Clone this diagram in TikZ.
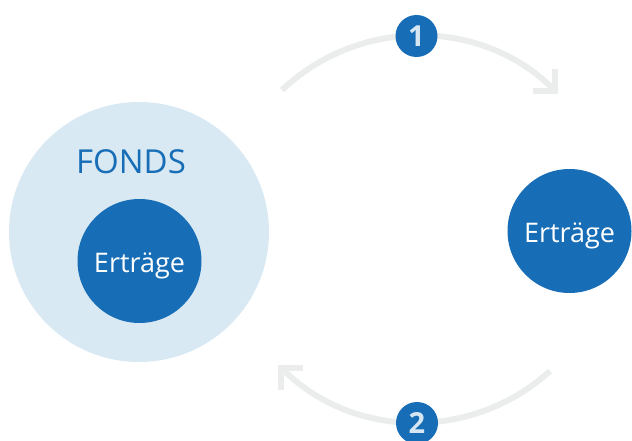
\documentclass[tikz,border=0pt]{standalone}
\usepackage{fontspec}
\setmainfont{Open Sans}
\usetikzlibrary{arrows.meta}
\definecolor{fblue}{HTML}{176DB6}
\definecolor{flight}{HTML}{D9E9F3}
\definecolor{fgray}{HTML}{EBEDED}
\definecolor{fdigit}{HTML}{D6E6F2}
\tikzset{
  arcline/.style={draw=fgray, line width=6pt, -{Straight Barb[angle=90:22pt, sharp]}},
  bigcirc/.style={circle, fill=flight, minimum size=260pt, inner sep=0pt},
  darkcirc/.style={circle, fill=fblue, minimum size=124pt, inner sep=0pt, text=white,
    text height=23pt, text depth=0pt, font=\fontsize{27}{30}\selectfont},
  numcirc/.style={circle, fill=fblue, minimum size=42pt, inner sep=0pt, text=fdigit, font=\fontsize{29}{30}\selectfont\bfseries},
  label/.style={text=fblue, font=\fontsize{33}{36}\selectfont, inner sep=0pt}
}
\begin{document}
\begin{tikzpicture}[x=1pt,y=-1pt]
\useasboundingbox (0,0) rectangle (632,441);
% arcs
\coordinate (a1s) at (282,90);
\coordinate (a2s) at (550,371);
\draw[arcline] (a1s) arc[start angle=-133.4, end angle=-45, radius=198];
\draw[arcline] (a2s) arc[start angle=47.7, end angle=135, radius=197];
% circles
\node[bigcirc] (fonds) at (139,232) {};
\node[label, anchor=base] (fondslabel) at (131,173) {FONDS};
\node[darkcirc] (e1) at (139.5,261) {Erträge};
\node[darkcirc] (e2) at (569.5,231) {Erträge};
\node[numcirc] (n1) at (416.5,36) {1};
\node[numcirc] (n2) at (417,423) {2};
\end{tikzpicture}
\end{document}
